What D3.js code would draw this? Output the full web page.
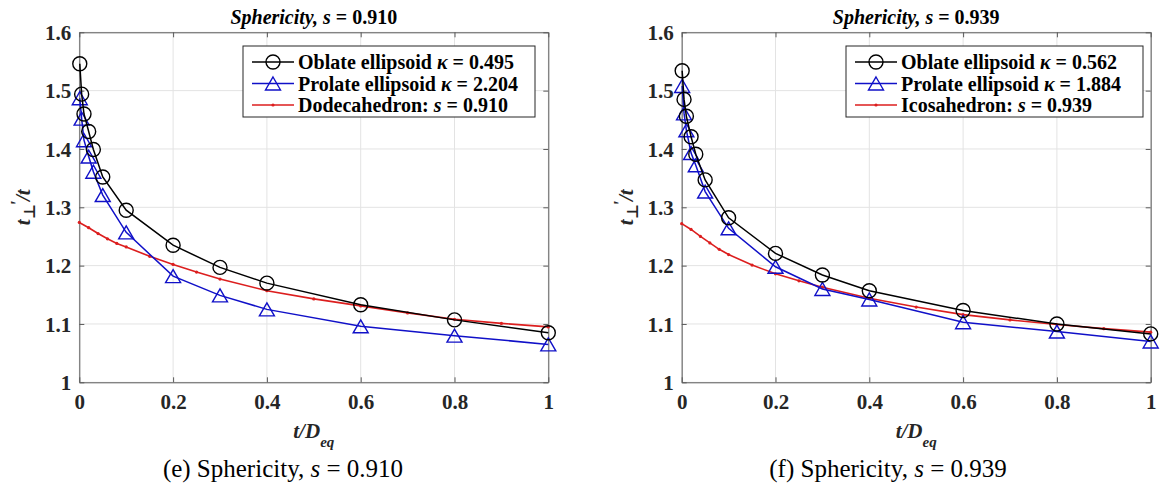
<!DOCTYPE html>
<html lang="en">
  <head>
    <meta charset="UTF-8" />
    <title>Sphericity comparison</title>
    <script src="https://cdn.jsdelivr.net/npm/d3@7/dist/d3.min.js"></script>
    <style>
      body { margin: 0; background: #fff; }
      svg text { font-family: "Liberation Serif", Tinos, "Times New Roman", "Nimbus Roman", "Noto Serif", "DejaVu Serif", serif !important; }
    </style>
  </head>

  <body>
    <svg id="chart" width="1161" height="487"></svg>

    <script>

      // tick values and labels
      var xTicks = [0, 0.2, 0.4, 0.6, 0.8, 1];
      var xTickLabels = ["0", "0.2", "0.4", "0.6", "0.8", "1"];
      var yTicks = [1, 1.1, 1.2, 1.3, 1.4, 1.5, 1.6];
      var yTickLabels = ["1", "1.1", "1.2", "1.3", "1.4", "1.5", "1.6"];

      // t/Deq samples for the ellipsoids and for the polyhedra
      var xEllipsoid = [0.001, 0.005, 0.01, 0.02, 0.03, 0.05, 0.1, 0.2, 0.3, 0.4, 0.6, 0.8, 1];
      var xPolyhedron = [0, 0.02, 0.04, 0.06, 0.08, 0.1, 0.15, 0.2, 0.25, 0.3, 0.4, 0.5, 0.6, 0.7, 0.8, 0.9, 1];

      // (e) s = 0.910
      var oblateE = [1.546, 1.494, 1.460, 1.430, 1.399, 1.352, 1.295, 1.235, 1.197, 1.170, 1.133, 1.107, 1.085];
      var prolateE = [1.487, 1.452, 1.415, 1.387, 1.361, 1.321, 1.257, 1.182, 1.149, 1.125, 1.096, 1.080, 1.065];
      var dodecahedron = [1.274, 1.265, 1.255, 1.246, 1.238, 1.232, 1.216, 1.202, 1.189, 1.177, 1.157, 1.143, 1.131, 1.119, 1.108, 1.101, 1.095];

      // (f) s = 0.939
      var oblateF = [1.534, 1.485, 1.456, 1.421, 1.391, 1.347, 1.282, 1.221, 1.184, 1.157, 1.123, 1.100, 1.083];
      var prolateF = [1.508, 1.461, 1.432, 1.393, 1.372, 1.327, 1.264, 1.198, 1.160, 1.142, 1.103, 1.087, 1.070];
      var icosahedron = [1.272, 1.262, 1.250, 1.239, 1.228, 1.219, 1.201, 1.186, 1.174, 1.163, 1.144, 1.129, 1.116, 1.107, 1.099, 1.092, 1.086];

      var svg = d3.select("#chart");

      var black = "#000000",
          blue = "#1010c8",
          red = "#dc1e1e";

      function zip(xs, ys) {
        return xs.map(function(x, i) { return [x, ys[i]]; });
      }

      function drawPanel(p) {
        var g = svg.append("g");
        var x = d3.scaleLinear().domain([0, 1]).range([p.left, p.right]);
        var y = d3.scaleLinear().domain([1, 1.6]).range([p.bottom, p.top]);

        // grid
        g.selectAll(".gx").data(xTicks).enter().append("line")
         .attr("x1", function(d) { return x(d); }).attr("x2", function(d) { return x(d); })
         .attr("y1", p.top).attr("y2", p.bottom)
         .attr("stroke", "#e3e3e3").attr("stroke-width", 1);
        g.selectAll(".gy").data(yTicks).enter().append("line")
         .attr("y1", function(d) { return y(d); }).attr("y2", function(d) { return y(d); })
         .attr("x1", p.left).attr("x2", p.right)
         .attr("stroke", "#e3e3e3").attr("stroke-width", 1);

        // axes: inward ticks on all four sides
        var xAxis = d3.axisBottom(x).tickValues(xTicks).tickSizeInner(-5).tickSizeOuter(0)
                      .tickFormat(function(d, i) { return xTickLabels[i]; });
        var xTop = d3.axisTop(x).tickValues(xTicks).tickSizeInner(-5).tickSizeOuter(0).tickFormat("");
        var yAxis = d3.axisLeft(y).tickValues(yTicks).tickSizeInner(-5).tickSizeOuter(0)
                      .tickFormat(function(d, i) { return yTickLabels[i]; });
        var yRight = d3.axisRight(y).tickValues(yTicks).tickSizeInner(-5).tickSizeOuter(0).tickFormat("");

        var ax = [
          g.append("g").attr("transform", "translate(0," + p.bottom + ")").call(xAxis),
          g.append("g").attr("transform", "translate(0," + p.top + ")").call(xTop),
          g.append("g").attr("transform", "translate(" + p.left + ",0)").call(yAxis),
          g.append("g").attr("transform", "translate(" + p.right + ",0)").call(yRight)
        ];
        ax.forEach(function(a) {
          a.attr("font-family", null).attr("font-size", null);
          a.select(".domain").attr("stroke", "#5a5a5a");
          a.selectAll(".tick line").attr("stroke", "#5a5a5a");
          a.selectAll(".tick text")
           .attr("fill", "#262626")
           .style("font-weight", "bold")
           .style("font-size", "21px");
        });
        ax[0].selectAll(".tick text").attr("y", 12).attr("dy", "0.71em");
        ax[2].selectAll(".tick text").attr("x", -8).attr("dy", "0.34em");

        var line = d3.line().x(function(d) { return x(d[0]); }).y(function(d) { return y(d[1]); });

        // polyhedron (red, dots)
        var poly = zip(xPolyhedron, p.poly);
        g.append("path").datum(poly).attr("d", line)
         .attr("fill", "none").attr("stroke", red).attr("stroke-width", 1.6);
        g.selectAll(".pdot").data(poly).enter().append("circle")
         .attr("cx", function(d) { return x(d[0]); }).attr("cy", function(d) { return y(d[1]); })
         .attr("r", 1.6).attr("fill", red);

        // prolate (blue triangles)
        var pro = zip(xEllipsoid, p.prolate);
        g.append("path").datum(pro).attr("d", line)
         .attr("fill", "none").attr("stroke", blue).attr("stroke-width", 1.5);
        g.selectAll(".tri").data(pro).enter().append("path")
         .attr("d", function(d) { return triangle(x(d[0]), y(d[1])); })
         .attr("fill", "none").attr("stroke", blue).attr("stroke-width", 1.4);

        // oblate (black circles)
        var obl = zip(xEllipsoid, p.oblate);
        g.append("path").datum(obl).attr("d", line)
         .attr("fill", "none").attr("stroke", black).attr("stroke-width", 1.5);
        g.selectAll(".circ").data(obl).enter().append("circle")
         .attr("cx", function(d) { return x(d[0]); }).attr("cy", function(d) { return y(d[1]); })
         .attr("r", 7).attr("fill", "none").attr("stroke", black).attr("stroke-width", 1.4);

        // title
        var t = g.append("text")
                 .attr("x", (p.left + p.right) / 2).attr("y", 24)
                 .attr("text-anchor", "middle")
                 .style("font-size", "20px").style("font-weight", "bold");
        t.append("tspan").style("font-style", "italic").text("Sphericity, s");
        t.append("tspan").text(" = " + p.sValue);

        // x label
        var xl = g.append("text")
                  .attr("x", (p.left + p.right) / 2).attr("y", 438)
                  .attr("text-anchor", "middle")
                  .style("font-size", "21px").style("font-weight", "bold").style("font-style", "italic")
                  .attr("fill", "#262626");
        xl.append("tspan").text("t/D");
        xl.append("tspan").attr("dy", 9).style("font-size", "15px").text("eq");

        // y label
        var yl = g.append("text")
                  .attr("transform", "translate(" + (p.left - 49) + "," + ((p.top + p.bottom) / 2) + ")rotate(-90)")
                  .attr("text-anchor", "middle")
                  .style("font-size", "21px").style("font-weight", "bold").style("font-style", "italic")
                  .attr("fill", "#262626");
        yl.append("tspan").text("t");
        yl.append("tspan").attr("dy", 5).style("font-size", "16px").style("font-style", "normal").text("\u22a5");
        yl.append("tspan").attr("dy", -11).attr("dx", -2).style("font-size", "18px").text("'");
        yl.append("tspan").attr("dy", 6).text("/t");

        // legend
        var lg = g.append("g");
        lg.append("rect")
          .attr("x", p.legX).attr("y", 46).attr("width", p.legW).attr("height", 71)
          .attr("fill", "#fff").attr("stroke", "#262626").attr("stroke-width", 1);
        var rows = [
          { color: black, marker: "circle", label: p.labels[0] },
          { color: blue, marker: "triangle", label: p.labels[1] },
          { color: red, marker: "dot", label: p.labels[2] }
        ];
        rows.forEach(function(r, i) {
          var ry = 62 + i * 21.5;
          var lx1 = p.legX + 9, lx2 = p.legX + 51, mx = (lx1 + lx2) / 2;
          lg.append("line").attr("x1", lx1).attr("x2", lx2).attr("y1", ry).attr("y2", ry)
            .attr("stroke", r.color).attr("stroke-width", 1.5);
          if (r.marker == "circle") {
            lg.append("circle").attr("cx", mx).attr("cy", ry).attr("r", 7)
              .attr("fill", "none").attr("stroke", r.color).attr("stroke-width", 1.4);
          } else if (r.marker == "triangle") {
            lg.append("path").attr("d", triangle(mx, ry))
              .attr("fill", "none").attr("stroke", r.color).attr("stroke-width", 1.4);
          } else {
            lg.append("circle").attr("cx", mx).attr("cy", ry).attr("r", 1.6).attr("fill", r.color);
          }
          var lt = lg.append("text").attr("x", p.legX + 55).attr("y", ry + 7)
                     .style("font-size", "20px").style("font-weight", "bold").attr("fill", "#000");
          r.label.forEach(function(part) {
            var s = lt.append("tspan").text(part[0]);
            if (part[1]) s.style("font-style", "italic");
          });
        });

        // caption
        var c = svg.append("text")
                   .attr("x", p.captionX).attr("y", 477)
                   .attr("text-anchor", "middle")
                   .style("font-size", "25px");
        c.append("tspan").text(p.captionTag + " Sphericity, ");
        c.append("tspan").style("font-style", "italic").text("s");
        c.append("tspan").text(" = " + p.sValue);
      }

      function triangle(cx, cy) {
        var hw = 7.5, hh = 6.5;
        return "M" + cx + "," + (cy - hh) + "L" + (cx + hw) + "," + (cy + hh) + "L" + (cx - hw) + "," + (cy + hh) + "Z";
      }

      drawPanel({
        left: 79.3, right: 548.3, top: 32.3, bottom: 382.3,
        oblate: oblateE, prolate: prolateE, poly: dodecahedron,
        sValue: "0.910", captionTag: "(e)", captionX: 283,
        legX: 243, legW: 292,
        labels: [
          [["Oblate ellipsoid "], ["\u03ba", true], [" = 0.495"]],
          [["Prolate ellipsoid "], ["\u03ba", true], [" = 2.204"]],
          [["Dodecahedron: "], ["s", true], [" = 0.910"]]
        ]
      });

      drawPanel({
        left: 681.7, right: 1150.7, top: 32.3, bottom: 382.3,
        oblate: oblateF, prolate: prolateF, poly: icosahedron,
        sValue: "0.939", captionTag: "(f)", captionX: 888,
        legX: 846, legW: 297,
        labels: [
          [["Oblate ellipsoid "], ["\u03ba", true], [" = 0.562"]],
          [["Prolate ellipsoid "], ["\u03ba", true], [" = 1.884"]],
          [["Icosahedron: "], ["s", true], [" = 0.939"]]
        ]
      });

    </script>
  </body>
</html>
